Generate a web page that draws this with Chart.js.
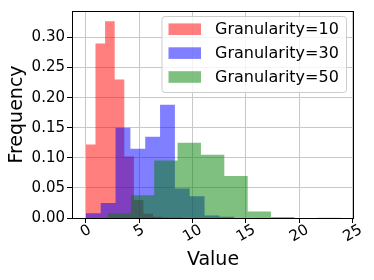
<!DOCTYPE html>
<html>
<head>
    <title>Histogram</title>
    <script src="https://cdn.jsdelivr.net/npm/chart.js"></script>
    <style>
        body { margin: 0; background: #fff; }
        #chart { display: block; }
    </style>
</head>
<body>
    <canvas id="chart" width="374" height="280"></canvas>

    <script>
        // bin edges and densities
        const labels = ['Granularity=10', 'Granularity=30', 'Granularity=50'];
        const redEdges = [0, 0.9, 1.8, 2.7, 3.6, 4.5, 5.4, 6.3, 7.2, 8.1, 9.0];
        const redFreq = [0.122, 0.290, 0.327, 0.230, 0.102, 0.030, 0.007, 0.002, 0.001, 0.001];
        const blueEdges = [0, 1.39, 2.78, 4.17, 5.56, 6.95, 8.34, 9.73, 11.12, 12.51, 13.9];
        const blueFreq = [0.008, 0.025, 0.150, 0.115, 0.135, 0.188, 0.049, 0.036, 0.004, 0.002];
        const greenEdges = [2.03, 4.22, 6.40, 8.59, 10.78, 12.97, 15.16, 17.34, 19.53, 21.72, 23.90];
        const greenFreq = [0.008, 0.038, 0.0955, 0.125, 0.105, 0.070, 0.011, 0.0016, 0, 0.0005];
        const xTicks = [0, 5, 10, 15, 20, 25];
        const yTicks = [0, 0.05, 0.10, 0.15, 0.20, 0.25, 0.30];
        const colors = ['rgba(255,0,0,0.5)', 'rgba(0,0,255,0.5)', 'rgba(0,128,0,0.5)'];

        Chart.defaults.font.family = "'DejaVu Sans', sans-serif";
        Chart.defaults.color = '#000';

        // stepped outline: each point holds its height until the next edge
        function histPoints(edges, freq) {
            const pts = freq.map((f, i) => ({x: edges[i], y: f}));
            pts.push({x: edges[edges.length - 1], y: 0});
            return pts;
        }

        function histSet(i, edges, freq) {
            return {
                label: labels[i],
                data: histPoints(edges, freq),
                stepped: true,
                fill: 'origin',
                backgroundColor: colors[i],
                borderWidth: 0,
                pointRadius: 0,
                order: 3 - i
            };
        }

        // legend box inside the axes, upper right
        const legendBox = {
            id: 'legendBox',
            afterDatasetsDraw(chart) {
                const ctx = chart.ctx;
                const area = chart.chartArea;
                const bx = 162, by = 16.5, bw = 184.5, bh = 76;
                ctx.save();
                ctx.beginPath();
                ctx.roundRect(bx, by, bw, bh, 3);
                ctx.fillStyle = 'rgba(255,255,255,0.8)';
                ctx.fill();
                ctx.strokeStyle = '#cccccc';
                ctx.lineWidth = 1;
                ctx.stroke();
                ctx.font = "16px 'DejaVu Sans'";
                ctx.textBaseline = 'middle';
                ctx.textAlign = 'left';
                chart.data.datasets.forEach((ds, i) => {
                    const cy = 29.2 + i * 23.9;
                    ctx.fillStyle = ds.backgroundColor;
                    ctx.fillRect(168.5, cy - 5.8, 32.5, 11.6);
                    ctx.fillStyle = '#000';
                    ctx.fillText(ds.label, 215, cy + 0.5);
                });
                // spines on all four sides
                ctx.strokeStyle = '#000';
                ctx.lineWidth = 1;
                ctx.strokeRect(Math.round(area.left) + 0.5, Math.round(area.top) + 0.5,
                    Math.round(area.right - area.left) - 1, Math.round(area.bottom - area.top));
                ctx.restore();
            }
        };

        // x tick labels rotated 30 degrees, centred on the ticks
        const xLabels = {
            id: 'xLabels',
            afterDraw(chart) {
                const ctx = chart.ctx;
                const xs = chart.scales.x;
                const bottom = chart.chartArea.bottom;
                ctx.save();
                ctx.font = "15px 'DejaVu Sans'";
                ctx.fillStyle = '#000';
                ctx.textAlign = 'center';
                ctx.textBaseline = 'middle';
                xTicks.forEach(v => {
                    const s = String(v);
                    const w = ctx.measureText(s).width;
                    const h = w * 0.5 + 11 * 0.866;
                    ctx.save();
                    ctx.translate(xs.getPixelForValue(v), bottom + 6 + h / 2);
                    ctx.rotate(-Math.PI / 6);
                    ctx.fillText(s, 0, 0);
                    ctx.restore();
                });
                ctx.restore();
            }
        };

        const chart = new Chart(document.getElementById('chart'), {
            type: 'line',
            data: {
                datasets: [
                    histSet(0, redEdges, redFreq),
                    histSet(1, blueEdges, blueFreq),
                    histSet(2, greenEdges, greenFreq)
                ]
            },
            options: {
                responsive: false,
                animation: false,
                events: [],
                layout: { padding: { top: 8, right: 20, left: 0, bottom: 0 } },
                plugins: {
                    legend: { display: false },
                    tooltip: { enabled: false }
                },
                scales: {
                    x: {
                        type: 'linear',
                        min: -1.3,
                        max: 25.12,
                        afterBuildTicks: s => { s.ticks = xTicks.map(v => ({value: v})); },
                        afterFit: s => { s.height = 62; },
                        border: { display: false },
                        grid: { color: '#c8c8c8', tickColor: '#000', tickLength: 5 },
                        ticks: { display: false },
                        title: {
                            display: true,
                            text: 'Value',
                            font: { size: 19 },
                            padding: { top: 0, bottom: 9 }
                        }
                    },
                    y: {
                        min: 0,
                        max: 0.344,
                        afterBuildTicks: s => { s.ticks = yTicks.map(v => ({value: v})); },
                        afterFit: s => { s.width = 72; },
                        border: { display: false },
                        grid: { color: '#c8c8c8', tickColor: '#000', tickLength: 5 },
                        ticks: {
                            font: { size: 15 },
                            padding: 2,
                            callback: v => v.toFixed(2)
                        },
                        title: {
                            display: true,
                            text: 'Frequency',
                            font: { size: 19 },
                            padding: { top: 6, bottom: 0 }
                        }
                    }
                }
            },
            plugins: [legendBox, xLabels]
        });
    </script>
</body>
</html>
